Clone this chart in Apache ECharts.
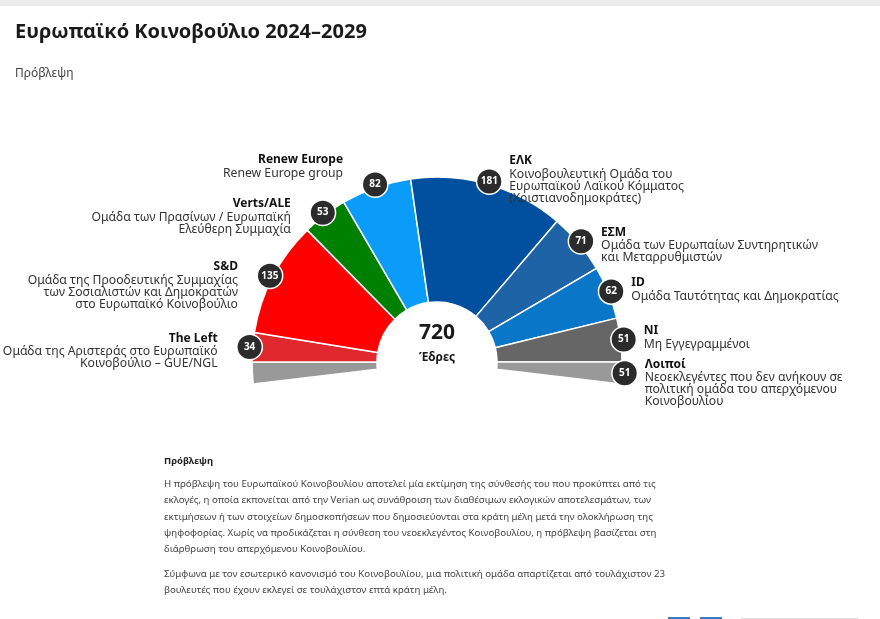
<!DOCTYPE html>
<html>
<head>
<meta charset="utf-8">
<script src="https://cdn.jsdelivr.net/npm/echarts@6.0.0/dist/echarts.min.js"></script>
<style>
  html, body { margin: 0; padding: 0; background: #fff; }
  #chart { width: 880px; height: 619px; }
</style>
</head>
<body>
<div id="chart"></div>
<script>
// data, left to right
var groupNames = ['The Left', 'S&D', 'Verts/ALE', 'Renew Europe', 'ΕΛΚ', 'ΕΣΜ', 'ID', 'NI', 'Λοιποί'];
var groupDescs = [
    'Ομάδα της Αριστεράς στο Ευρωπαϊκό\nΚοινοβούλιο – GUE/NGL',
    'Ομάδα της Προοδευτικής Συμμαχίας\nτων Σοσιαλιστών και Δημοκρατών\nστο Ευρωπαϊκό Κοινοβούλιο',
    'Ομάδα των Πρασίνων / Ευρωπαϊκή\nΕλεύθερη Συμμαχία',
    'Renew Europe group',
    'Κοινοβουλευτική Ομάδα του\nΕυρωπαϊκού Λαϊκού Κόμματος\n(Χριστιανοδημοκράτες)',
    'Ομάδα των Ευρωπαίων Συντηρητικών\nκαι Μεταρρυθμιστών',
    'Ομάδα Ταυτότητας και Δημοκρατίας',
    'Μη Εγγεγραμμένοι',
    'Νεοεκλεγέντες που δεν ανήκουν σε\nπολιτική ομάδα του απερχόμενου\nΚοινοβουλίου'
];
var seats = [34, 135, 53, 82, 181, 71, 62, 51, 51];
var groupColors = ['#e0282e', '#ff0000', '#008000', '#0a9cf8', '#00509f', '#1d63a6', '#0a76c8', '#666666', '#999999'];

var notePara1 = [
    'Η πρόβλεψη του Ευρωπαϊκού Κοινοβουλίου αποτελεί μία εκτίμηση της σύνθεσής του που προκύπτει από τις',
    'εκλογές, η οποία εκπονείται από την Verian ως συνάθροιση των διαθέσιμων εκλογικών αποτελεσμάτων, των',
    'εκτιμήσεων ή των στοιχείων δημοσκοπήσεων που δημοσιεύονται στα κράτη μέλη μετά την ολοκλήρωση της',
    'ψηφοφορίας. Χωρίς να προδικάζεται η σύνθεση του νεοεκλεγέντος Κοινοβουλίου, η πρόβλεψη βασίζεται στη',
    'διάρθρωση του απερχόμενου Κοινοβουλίου.'
];
var notePara2 = [
    'Σύμφωνα με τον εσωτερικό κανονισμό του Κοινοβουλίου, μια πολιτική ομάδα απαρτίζεται από τουλάχιστον 23',
    'βουλευτές που έχουν εκλεγεί σε τουλάχιστον επτά κράτη μέλη.'
];

var FONT = '"Noto Sans", sans-serif';
var cx = 437, cy = 362;

var total = seats.reduce(function (a, b) { return a + b; }, 0);
var last = seats.length - 1;
var others = seats[last];
// the group seats fill the half circle, "Λοιποί" hang off both ends
var span = 180 * total / (total - others);

// pie data: others split in two halves at both ends
var pieData = [];
pieData.push({ name: groupNames[last], value: others / 2, idx: last, hide: true });
seats.forEach(function (v, i) {
    if (i === last) return;
    pieData.push({ name: groupNames[i], value: v, idx: i });
});
pieData.push({ name: groupNames[last], value: others / 2, idx: last });

function itemsFor(kind) {
    return pieData.map(function (d) {
        var item = { name: d.name, value: d.value, idx: d.idx };
        if (kind === 'main') {
            item.itemStyle = { color: groupColors[d.idx] };
        } else if (d.hide) {
            item.label = { show: false };
        }
        return item;
    });
}

var pieBase = {
    type: 'pie',
    center: [cx, cy],
    startAngle: 90 + span / 2,
    endAngle: 90 - span / 2,
    clockwise: true,
    avoidLabelOverlap: false,
    animation: false
};

var myChart = echarts.init(document.getElementById('chart'));
var option = {
    backgroundColor: '#fff',
    title: [
        {
            text: 'Ευρωπαϊκό Κοινοβούλιο 2024–2029',
            left: 10, top: 17,
            textStyle: { fontFamily: FONT, fontSize: 20, fontWeight: 'bold', color: '#1a1a1a' }
        },
        {
            text: 'Πρόβλεψη',
            left: 10, top: 63,
            textStyle: { fontFamily: FONT, fontSize: 12, fontWeight: 'normal', color: '#444' }
        }
    ],
    series: [
        // the sectors
        Object.assign({}, pieBase, {
            radius: [60, 185],
            silent: true,
            label: { show: false },
            labelLine: { show: false },
            itemStyle: { borderColor: '#fff', borderWidth: 1.5 },
            data: itemsFor('main')
        }),
        // group names and descriptions
        Object.assign({}, pieBase, {
            radius: [170, 200],
            silent: true,
            itemStyle: { color: 'rgba(0,0,0,0)' },
            labelLine: { show: false },
            label: {
                show: true,
                position: 'inside',
                formatter: function (p) {
                    var i = p.data.idx;
                    var lines = ['{n|' + groupNames[i] + '}'];
                    groupDescs[i].split('\n').forEach(function (s) {
                        lines.push('{d|' + s + '}');
                    });
                    return lines.join('\n');
                },
                rich: {
                    n: { fontFamily: FONT, fontSize: 12, fontWeight: 'bold', color: '#111', lineHeight: 15 },
                    d: { fontFamily: FONT, fontSize: 12.2, color: '#333', lineHeight: 12 }
                }
            },
            labelLayout: function (p) {
                var r = p.labelRect;
                var bx = r.x + r.width / 2, by = r.y + r.height / 2;
                var right = bx > cx;
                var lift = Math.abs(bx - cx) < 80 ? (right ? 12 : 16) : 0;
                return {
                    x: right ? bx + 20 : bx - 32,
                    y: by - 17 - lift,
                    align: right ? 'left' : 'right',
                    verticalAlign: 'top'
                };
            },
            data: itemsFor('text')
        }),
        // seat badges on the outer rim
        Object.assign({}, pieBase, {
            radius: [170, 200],
            silent: true,
            z: 5,
            itemStyle: { color: 'rgba(0,0,0,0)' },
            labelLine: { show: false },
            label: {
                show: true,
                position: 'inside',
                formatter: function (p) {
                    return '{b|' + seats[p.data.idx] + '}';
                },
                rich: {
                    b: {
                        fontFamily: FONT, fontSize: 10, fontWeight: 'bold', color: '#fff',
                        backgroundColor: '#2b2b2b', borderColor: '#fff', borderWidth: 1.5,
                        borderRadius: 13, width: 24, height: 24, lineHeight: 24, align: 'center'
                    }
                }
            },
            data: itemsFor('badge')
        })
    ],
    graphic: [
        { type: 'rect', shape: { x: 0, y: 0, width: 880, height: 6 }, style: { fill: '#ececec' } },
        {
            type: 'text', x: cx, y: 333,
            style: { text: String(total), font: 'bold 21px ' + FONT, fill: '#1a1a1a', textAlign: 'center', textVerticalAlign: 'middle' }
        },
        {
            type: 'text', x: cx, y: 358,
            style: { text: 'Έδρες', font: 'bold 12px ' + FONT, fill: '#1a1a1a', textAlign: 'center', textVerticalAlign: 'middle' }
        },
        {
            type: 'text', x: 164, y: 461,
            style: { text: 'Πρόβλεψη', font: 'bold 9.5px ' + FONT, fill: '#222', textVerticalAlign: 'middle' }
        },
        {
            type: 'text', x: 164, y: 476,
            style: { text: notePara1.join('\n'), font: '9.7px ' + FONT, lineHeight: 16.3, fill: '#444' }
        },
        {
            type: 'text', x: 164, y: 566,
            style: { text: notePara2.join('\n'), font: '9.7px ' + FONT, lineHeight: 16.3, fill: '#444' }
        },
        { type: 'rect', shape: { x: 668, y: 617, width: 22, height: 2 }, style: { fill: '#3a78c2' } },
        { type: 'rect', shape: { x: 700, y: 617, width: 22, height: 2 }, style: { fill: '#3a78c2' } },
        { type: 'rect', shape: { x: 741, y: 618, width: 117, height: 1 }, style: { fill: '#dddddd' } }
    ]
};
myChart.setOption(option);
</script>
</body>
</html>
